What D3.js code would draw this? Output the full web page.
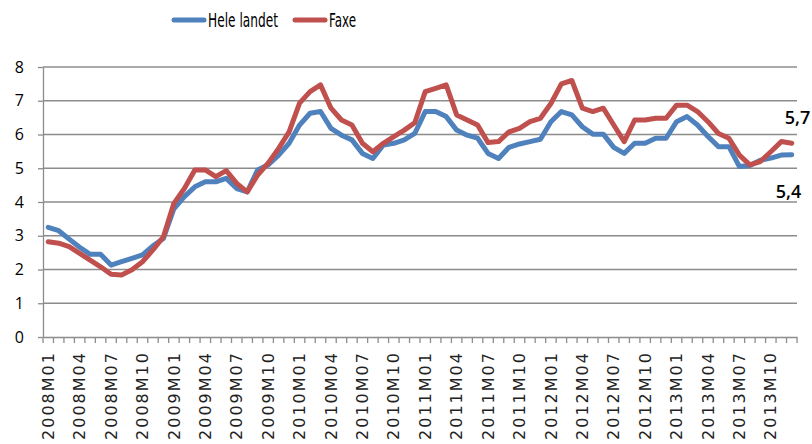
<!DOCTYPE html>
<html>
<head>
<meta charset="utf-8">
<script src="https://cdn.jsdelivr.net/npm/d3@7"></script>
<style>
  body { margin: 0; background: #fff; }
  svg { display: block; }
</style>
</head>
<body>
<script>
// data
var years = [2008, 2009, 2010, 2011, 2012, 2013];
var months = ["01","02","03","04","05","06","07","08","09","10","11","12"];
var categories = [];
years.forEach(function (y) {
    months.forEach(function (m) { categories.push(y + "M" + m); });
});

var heleLandet = [3.25,3.15,2.9,2.66,2.45,2.45,2.13,2.23,2.33,2.43,2.7,2.92,
    3.8,4.16,4.45,4.6,4.6,4.7,4.4,4.3,4.95,5.1,5.39,5.74,
    6.28,6.63,6.68,6.18,5.98,5.84,5.44,5.29,5.69,5.74,5.84,6.03,
    6.68,6.68,6.53,6.13,5.98,5.89,5.44,5.29,5.62,5.72,5.79,5.86,
    6.38,6.68,6.58,6.23,6.01,6.01,5.62,5.44,5.74,5.74,5.89,5.89,
    6.38,6.53,6.28,5.94,5.64,5.64,5.05,5.08,5.24,5.3,5.39,5.4];

var faxe = [2.82,2.78,2.68,2.48,2.28,2.08,1.86,1.84,1.99,2.23,2.58,2.97,
    3.96,4.4,4.95,4.95,4.75,4.93,4.55,4.3,4.8,5.15,5.59,6.08,
    6.93,7.27,7.47,6.78,6.43,6.28,5.74,5.49,5.74,5.94,6.13,6.35,
    7.27,7.37,7.47,6.58,6.43,6.28,5.76,5.79,6.08,6.18,6.38,6.48,
    6.92,7.5,7.6,6.78,6.68,6.78,6.28,5.79,6.43,6.43,6.48,6.48,
    6.87,6.87,6.68,6.38,6.03,5.89,5.39,5.1,5.2,5.49,5.79,5.74];

var yTicks = [0, 1, 2, 3, 4, 5, 6, 7, 8];
var seriesNames = ["Hele landet", "Faxe"];
var endLabels = ["5,4", "5,7"];

var w = 812, h = 444;
var plotLeft = 43, plotRight = 797, plotTop = 67, plotBottom = 337;
var blue = "#4f81bd", red = "#c0504d";

var svg = d3.select("body").append("svg")
    .attr("width", w)
    .attr("height", h);

var x = d3.scaleBand().domain(categories).range([plotLeft, plotRight]);
var y = d3.scaleLinear().domain([0, 8]).range([plotBottom, plotTop]);
function cx(d, i) { return x(categories[i]) + x.bandwidth() / 2; }

// gridlines
svg.append("g").selectAll("line")
    .data(yTicks.slice(1)).enter()
    .append("line")
    .attr("x1", plotLeft).attr("x2", plotRight)
    .attr("y1", function (d) { return y(d); })
    .attr("y2", function (d) { return y(d); })
    .attr("stroke", "#8c8c8c")
    .attr("stroke-width", 1.3);

// y axis
var yAxis = svg.append("g")
    .attr("transform", "translate(" + plotLeft + ",0)")
    .call(d3.axisLeft(y).tickValues(yTicks).tickSize(5).tickSizeOuter(0).tickPadding(14));
yAxis.select(".domain").attr("stroke", "#8c8c8c").attr("stroke-width", 1.3);
yAxis.selectAll(".tick line").attr("stroke", "#8c8c8c").attr("stroke-width", 1.3);
yAxis.selectAll("text")
    .attr("font-family", "'Open Sans', sans-serif")
    .attr("font-size", "16px")
    .attr("fill", "#000");

// x axis: tick marks between categories
var bounds = categories.map(function (c) { return x(c); }).concat([plotRight]);
svg.append("g").selectAll("line")
    .data(bounds).enter()
    .append("line")
    .attr("x1", function (d) { return d; })
    .attr("x2", function (d) { return d; })
    .attr("y1", plotBottom)
    .attr("y2", plotBottom + 6)
    .attr("stroke", "#8c8c8c")
    .attr("stroke-width", 1.3);

var xAxis = svg.append("g")
    .attr("transform", "translate(0," + plotBottom + ")")
    .call(d3.axisBottom(x)
        .tickValues(categories.filter(function (d, i) { return i % 3 === 0; }))
        .tickSize(0).tickSizeOuter(0));
xAxis.select(".domain").attr("stroke", "#8c8c8c").attr("stroke-width", 1.3);
xAxis.selectAll("text")
    .attr("font-family", "'DejaVu Sans', sans-serif")
    .attr("font-size", "16px")
    .attr("fill", "#222")
    .attr("text-anchor", "end")
    .attr("y", 0)
    .attr("dy", "0.35em")
    .attr("transform", "translate(0,16) rotate(-90)")
    .attr("textLength", 87)
    .attr("lengthAdjust", "spacing");

// lines
var line = d3.line()
    .x(cx)
    .y(function (d) { return y(d); });

svg.append("path")
    .datum(heleLandet)
    .attr("d", line)
    .attr("fill", "none")
    .attr("stroke", blue)
    .attr("stroke-width", 5)
    .attr("stroke-linejoin", "round")
    .attr("stroke-linecap", "round");

svg.append("path")
    .datum(faxe)
    .attr("d", line)
    .attr("fill", "none")
    .attr("stroke", red)
    .attr("stroke-width", 5)
    .attr("stroke-linejoin", "round")
    .attr("stroke-linecap", "round");

// end labels
var last = categories.length - 1;
svg.append("text")
    .attr("x", cx(null, last) - 16)
    .attr("y", y(heleLandet[last]) + 43)
    .attr("font-family", "'Open Sans', sans-serif")
    .attr("font-size", "18px")
    .attr("font-weight", 600)
    .attr("fill", "#000")
    .text(endLabels[0]);
svg.append("text")
    .attr("x", cx(null, last) - 7)
    .attr("y", y(faxe[last]) - 19)
    .attr("font-family", "'Open Sans', sans-serif")
    .attr("font-size", "18px")
    .attr("font-weight", 600)
    .attr("fill", "#000")
    .text(endLabels[1]);

// legend
var legend = svg.append("g");
var legendItems = [
    {name: seriesNames[0], color: blue, x: 174, tl: 70},
    {name: seriesNames[1], color: red, x: 295, tl: 27}
];
legendItems.forEach(function (d) {
    legend.append("line")
        .attr("x1", d.x).attr("x2", d.x + 30)
        .attr("y1", 20).attr("y2", 20)
        .attr("stroke", d.color)
        .attr("stroke-width", 5)
        .attr("stroke-linecap", "round");
    legend.append("text")
        .attr("x", d.x + 34)
        .attr("y", 27)
        .attr("font-family", "'Liberation Sans Narrow', 'DejaVu Sans Condensed', sans-serif")
        .attr("font-size", "20px")
        .attr("fill", "#000")
        .attr("textLength", d.tl)
        .attr("lengthAdjust", "spacingAndGlyphs")
        .text(d.name);
});
</script>
</body>
</html>
